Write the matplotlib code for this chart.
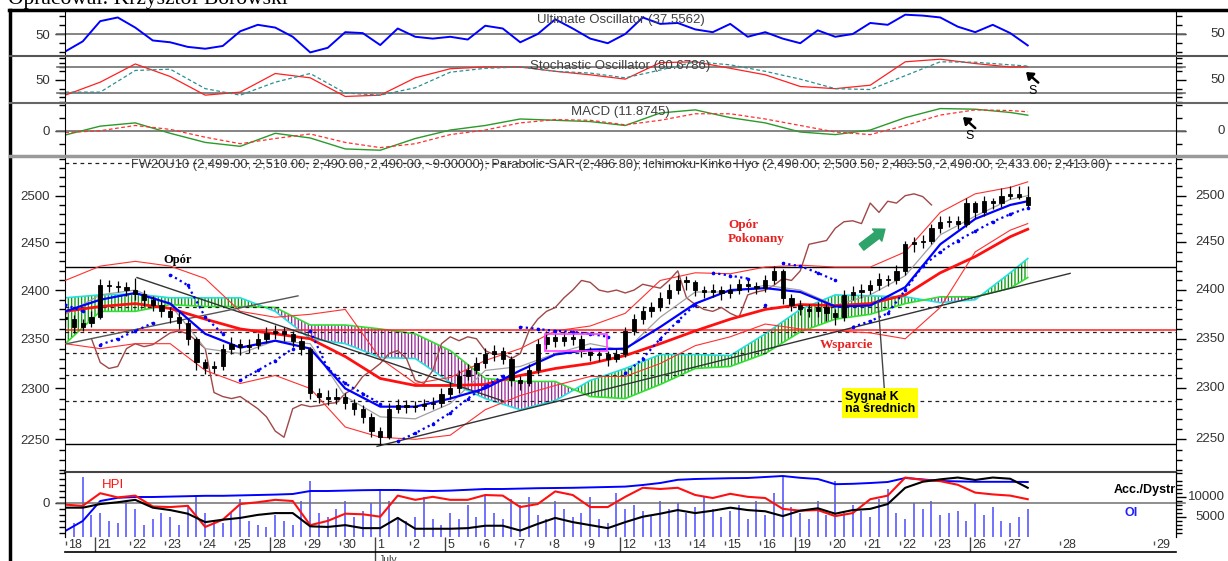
import numpy as np
import matplotlib
matplotlib.use('Agg')
import matplotlib.pyplot as plt
from matplotlib import ticker, transforms
from matplotlib.lines import Line2D
from matplotlib.patches import Rectangle

plt.rcParams['font.family'] = ['Liberation Sans', 'DejaVu Sans']
plt.rcParams['hatch.linewidth'] = 0.9

# ---------------- values ----------------
# FW20U10 bars, 4 per session
closes = [2370, 2362, 2366, 2372, 2405, 2404, 2403, 2400, 2396, 2390,
          2385, 2378, 2372, 2366, 2350, 2326, 2320, 2322, 2340, 2345,
          2342, 2344, 2350, 2356, 2358, 2355, 2348, 2340, 2296, 2292,
          2290, 2292, 2286, 2280, 2272, 2258, 2252, 2280, 2284, 2282,
          2283, 2285, 2286, 2295, 2300, 2312, 2318, 2325, 2335, 2338,
          2330, 2308, 2305, 2318, 2345, 2352, 2348, 2352, 2350, 2338,
          2334, 2335, 2330, 2335, 2358, 2370, 2378, 2382, 2392, 2400,
          2410, 2408, 2400, 2398, 2400, 2397, 2400, 2406, 2404, 2402,
          2410, 2420, 2392, 2385, 2380, 2378, 2382, 2376, 2372, 2395,
          2398, 2400, 2405, 2412, 2410, 2420, 2448, 2450, 2452, 2465,
          2472, 2473, 2470, 2492, 2482, 2494, 2492, 2500, 2502, 2499,
          2490]
highs = [2378, 2374, 2370, 2378, 2412, 2410, 2409, 2408, 2413, 2400,
         2394, 2390, 2382, 2377, 2370, 2352, 2330, 2328, 2345, 2352,
         2350, 2350, 2356, 2362, 2364, 2362, 2358, 2352, 2342, 2300,
         2298, 2300, 2296, 2290, 2284, 2276, 2262, 2286, 2290, 2289,
         2288, 2290, 2292, 2300, 2306, 2318, 2324, 2332, 2341, 2344,
         2342, 2333, 2312, 2324, 2350, 2358, 2356, 2358, 2356, 2354,
         2342, 2340, 2338, 2340, 2362, 2375, 2384, 2388, 2398, 2406,
         2416, 2415, 2410, 2404, 2406, 2404, 2406, 2412, 2410, 2408,
         2416, 2425, 2422, 2396, 2390, 2386, 2388, 2386, 2380, 2400,
         2404, 2406, 2410, 2418, 2416, 2426, 2452, 2456, 2458, 2470,
         2478, 2478, 2478, 2498, 2494, 2500, 2498, 2508, 2510, 2510,
         2510]
lows = [2362, 2356, 2358, 2362, 2370, 2398, 2398, 2394, 2390, 2384,
        2378, 2372, 2366, 2360, 2344, 2318, 2314, 2315, 2318, 2335,
        2334, 2336, 2340, 2346, 2350, 2348, 2342, 2334, 2290, 2286,
        2284, 2285, 2280, 2274, 2266, 2252, 2244, 2250, 2276, 2276,
        2277, 2279, 2280, 2282, 2290, 2296, 2308, 2314, 2320, 2328,
        2324, 2302, 2298, 2302, 2314, 2340, 2342, 2343, 2344, 2332,
        2328, 2328, 2322, 2326, 2332, 2354, 2365, 2372, 2378, 2386,
        2396, 2400, 2394, 2392, 2393, 2390, 2392, 2396, 2398, 2396,
        2398, 2406, 2386, 2378, 2374, 2372, 2372, 2368, 2364, 2368,
        2390, 2392, 2396, 2400, 2404, 2406, 2416, 2440, 2444, 2448,
        2460, 2466, 2464, 2466, 2476, 2478, 2486, 2488, 2496, 2496,
        2488]
first_open = 2372
volume = [4000, 3500, 15000, 5500, 6000, 4000, 3500, 9000, 7000, 3000, 4500, 6000, 5000, 3000, 8000, 10500,
          6000, 4000, 3500, 6000, 9500, 4000, 3000, 2500, 5500, 4000, 3000, 9000, 14000, 6000, 5000, 7000,
          9000, 5000, 6500, 8500, 12000, 9000, 5000, 4000, 5000, 10000, 4500, 3000, 6000, 4500, 8000, 5000,
          10500, 6000, 4500, 9500, 8000, 10000, 5500, 4500, 9000, 7000, 5000, 6000, 10000, 4500, 3500, 11000,
          7000, 8000, 6500, 5500, 9000, 7000, 8500, 6000, 7500, 10000, 7000, 5000, 6500, 8000, 4500, 9000,
          5500, 11000, 15000, 7500, 6000, 4500, 9000, 5500, 14000, 6000, 8000, 6500, 5000, 9500, 12000, 6000,
          4500, 8500, 7000, 9000, 5500, 6000, 6500, 4000, 8500, 5500, 7500, 4000, 3500, 5000, 7000]

# oscillators
uo = [31, 42, 64, 68, 57, 43, 41, 36, 34, 37, 53, 60, 57, 47, 30, 35, 52, 51, 38, 56,
      47, 45, 47, 44, 59, 56, 41, 50, 66, 56, 45, 40, 50, 68, 61, 62, 55, 52, 61, 47,
      52, 45, 40, 54, 47, 50, 62, 60, 71, 70, 68, 58, 52, 60, 51, 37.6]
stoch_k = [15, 45, 87, 58, 15, 22, 65, 55, 12, 15, 55, 76, 80, 80, 70, 62, 52, 90, 92, 77,
           62, 35, 30, 38, 92, 98, 88, 80, 80.7]
stoch_d = [22, 22, 72, 75, 30, 15, 45, 65, 20, 15, 32, 68, 77, 80, 70, 66, 55, 73, 92, 85,
           70, 52, 30, 28, 60, 92, 91, 85, 82]
macd = [-3.3, 3.5, 6, -2, -9, -12, -2, -5.6, -14, -15, -6, 0.5, 4, 9, 8, 7, 4, 13.6, 16, 10,
        6, -1, -3, 0.5, 10, 17, 16.5, 14, 11.9]
macd_signal = [-1.5, 0, 4, 1, -5, -10, -6, -2.5, -9, -13, -10, -3, 0.5, 6, 8.5, 8, 4.5, 8, 13, 13,
               9, 4, -1, -3, 4, 12, 16, 15.5, 14.5]

# price overlays, one value per session
ma_blue = [2378, 2390, 2397, 2386, 2355, 2341, 2348, 2340, 2300, 2282, 2282, 2290, 2300, 2318, 2334,
           2339, 2340, 2362, 2386, 2400, 2402, 2398, 2383, 2384, 2403, 2448, 2475, 2490, 2494]
ma_red = [2378, 2383, 2386, 2381, 2370, 2360, 2355, 2350, 2332, 2310, 2303, 2303, 2304, 2313, 2320,
          2325, 2333, 2345, 2358, 2370, 2380, 2385, 2384, 2386, 2395, 2418, 2435, 2456, 2464]
boll_up = [2410, 2425, 2430, 2425, 2412, 2378, 2372, 2375, 2380, 2330, 2305, 2311, 2328, 2340, 2358,
           2363, 2376, 2410, 2418, 2417, 2424, 2426, 2424, 2424, 2440, 2482, 2502, 2509, 2515]
boll_lo = [2345, 2340, 2345, 2345, 2318, 2305, 2313, 2300, 2262, 2252, 2250, 2254, 2279, 2293, 2303,
           2312, 2312, 2325, 2343, 2352, 2365, 2360, 2358, 2356, 2350, 2382, 2440, 2463, 2470]
ma_gray = [2375, 2395, 2400, 2385, 2340, 2335, 2348, 2345, 2292, 2272, 2270, 2285, 2318, 2322, 2335,
           2345, 2338, 2372, 2398, 2398, 2405, 2400, 2384, 2395, 2415, 2458, 2478, 2496, 2500]
senkou_a = [2392, 2395, 2396, 2392, 2392, 2392, 2378, 2350, 2345, 2331, 2330, 2306, 2290, 2279, 2288,
            2308, 2320, 2334, 2334, 2333, 2355, 2380, 2395, 2394, 2393, 2387, 2390, 2418, 2433]
senkou_b = [2345, 2378, 2378, 2385, 2383, 2383, 2382, 2364, 2364, 2360, 2355, 2338, 2310, 2307, 2307,
            2292, 2290, 2304, 2320, 2322, 2335, 2357, 2370, 2375, 2386, 2393, 2393, 2402, 2413]
# parabolic SAR, two values per session
sar = [2385, 2378, 2344, 2350, 2358, 2366, 2416, 2405, 2372, 2355,
       2308, 2318, 2328, 2340, 2358, 2320, 2305, 2295, 2285, 2248,
       2256, 2265, 2276, 2290, 2302, 2312, 2362, 2360, 2358, 2357,
       2355, 2352, 2315, 2330, 2350, 2368, 2385, 2418, 2415, 2412,
       2385, 2428, 2425, 2418, 2410, 2362, 2368, 2376, 2400, 2425,
       2440, 2452, 2462, 2472, 2480, 2487]

# lower panel, two values per session
hpi = [-0.3, -0.5, 1.6, 0.9, 1.2, -0.6, -0.7, -0.5, -4.0, -2.8, -0.2, 0.1, 0.5, 0.3, -3.7, -3.0,
       -1.8, -1.9, -2.3, 1.2, 0.5, 1.0, 0.5, 0.5, 1.3, 1.2, -0.7, -0.2, 1.9, 1.3, -0.7, -0.7,
       1.0, 2.5, 2.3, 2.5, 1.3, 0.8, 1.5, 1.0, 0.8, -1.0, -1.3, -1.2, -2.2, -1.7, 0.6, 1.2,
       4.2, 3.8, 3.6, 3.0, 1.7, 1.4, 1.2, 0.6]
acc_dist = [-0.8, -0.8, -0.2, 0.1, 0.5, -0.8, -1.2, -1.8, -3.2, -2.8, -2.5, -2.0, -1.7, -1.7, -3.9, -4.0,
            -3.7, -4.2, -4.2, -2.5, -4.3, -4.3, -4.3, -4.2, -3.8, -3.8, -4.6, -3.5, -2.5, -3.2, -3.7, -4.2,
            -3.2, -2.3, -1.8, -1.2, -1.7, -1.3, -0.8, -1.2, -1.4, -2.2, -1.3, -0.9, -1.8, -1.2, -1.0, -0.2,
            2.5, 3.5, 3.9, 4.2, 3.8, 4.2, 4.0, 2.5]
open_int = [1500, 4000, 9000, 9800, 10000, 10000, 10100, 10200, 10300, 10300, 10400, 10500, 10600, 10750,
            11500, 11500, 11600, 11700, 11750, 11750, 11600, 11500, 11600, 11800, 12000, 12000, 12100, 12200,
            12250, 12300, 12400, 12500, 12600, 13000, 13500, 14300, 14500, 14600, 14700, 14750, 15000, 15250,
            14800, 14500, 13200, 13300, 13500, 13750, 14750, 14400, 14000, 13900, 13800, 13800, 13800, 13750]

resist_levels = [2423.8, 2245.2]
dashed_levels = [2535.3, 2382.2, 2356.6, 2335.2, 2313.8, 2287.9]
support_red = 2358.9

day_labels = ['18', '21', '22', '23', '24', '25', '28', '29', '30', '1', '2', '5', '6', '7', '8', '9',
              '12', '13', '14', '15', '16', '19', '20', '21', '22', '23', '26', '27', '28', '29']
day_pos = [0.17] + list(range(1, 28)) + [28.57, 31.26]
week_starts = [1, 6, 11, 16, 21, 26]
month_start = 9

# ---------------- positions on the session axis ----------------
n = len(closes)
t_bar = 0.15 + 0.25 * np.arange(n)
t_half = t_bar[::2]
t_day = t_bar[list(range(0, n - 2, 4)) + [n - 1]]

W, H = 1228, 561
fig = plt.figure(figsize=(W / 100, H / 100), dpi=100)
XL = (0.143, 31.886)
TXT = '#333333'


def panel(top, bottom, label=None):
    ax = fig.add_axes([65 / W, 1 - bottom / H, 1111 / W, (bottom - top) / H], label=label)
    ax.set_xlim(*XL)
    ax.set_xticks([])
    ax.patch.set_alpha(0)
    for s in ('top', 'bottom'):
        ax.spines[s].set_visible(False)
    return ax


def yaxis(ax, ylim, majors, labels, minors, left=True, right=True, right_labels=True):
    ax.set_ylim(*ylim)
    ax.yaxis.set_major_locator(ticker.FixedLocator(majors))
    ax.yaxis.set_major_formatter(ticker.FixedFormatter(labels))
    ax.yaxis.set_minor_locator(ticker.FixedLocator(minors))
    ax.yaxis.set_minor_formatter(ticker.NullFormatter())
    ax.tick_params(axis='y', which='both', direction='out', left=left, right=right,
                   labelleft=left, labelright=False, labelsize=9.5, labelcolor=TXT, width=1)
    ax.tick_params(axis='y', which='major', length=7, pad=3.6)
    ax.tick_params(axis='y', which='minor', length=4)
    if right and right_labels:
        tr = transforms.blended_transform_factory(ax.transAxes, ax.transData)
        for v, s in zip(majors, labels):
            ax.text(1 + 49 / 1111, v, s, transform=tr, ha='right', va='center',
                    fontsize=9.5, color=TXT)


def ext_hline(ax, v, color='#707070', lw=1.2):
    ax.axhline(v, xmin=-8 / 1111, xmax=1 + 9 / 1111, clip_on=False, color=color, lw=lw)


cursor = dict(arrowstyle='-|>,head_width=0.28,head_length=0.38', lw=1.8,
              color='black', shrinkA=0, shrinkB=0)

# ---------------- Ultimate oscillator ----------------
ax_uo = panel(10, 56)
yaxis(ax_uo, (26.1, 76.1), [50], ['50'], [30, 40, 60, 70])
ext_hline(ax_uo, 50)
ax_uo.plot(t_half, uo, color='#0000ff', lw=1.4)
ax_uo.text(0.5, 0.78, 'Ultimate Oscillator (37.5562)', transform=ax_uo.transAxes,
           ha='center', va='center', fontsize=9.5, color='#404040')

# ---------------- Stochastic ----------------
ax_st = panel(56, 102.7)
yaxis(ax_st, (-2.4, 105.4), [50], ['50'], [0, 10, 20, 30, 70, 80, 90, 100])
ext_hline(ax_st, 80)
ext_hline(ax_st, 20)
ax_st.plot(t_day, stoch_k, color='#ff2020', lw=0.9)
ax_st.plot(t_day, stoch_d, color='#2a9090', lw=0.9, ls=(0, (3, 2)))
ax_st.text(0.5, 0.786, 'Stochastic Oscillator (80.6786)', transform=ax_st.transAxes,
           ha='center', va='center', fontsize=9.5, color='#404040')
ax_st.annotate('', xy=(27.6, 68.5), xytext=(27.95, 44), arrowprops=cursor)
ax_st.text(27.8, 25, 'S', ha='center', va='center', fontsize=9, color='black')

# ---------------- MACD ----------------
ax_m = panel(102.7, 155.7)
yaxis(ax_m, (-19.2, 21.5), [0], ['0'], [-10, 10, 20])
ext_hline(ax_m, 0)
ax_m.plot(t_day, macd, color='#2a9a2a', lw=1.0)
ax_m.plot(t_day, macd_signal, color='#ff3030', lw=0.9, ls=(0, (3, 2)))
ax_m.text(0.5, 0.82, 'MACD (11.8745)', transform=ax_m.transAxes,
          ha='center', va='center', fontsize=9.5, color='#404040')
ax_m.annotate('', xy=(25.8, 10.5), xytext=(26.15, 2), arrowprops=cursor)
ax_m.text(26.0, -4, 'S', ha='center', va='center', fontsize=9, color='black')

# ---------------- Price ----------------
ax_p = panel(155.7, 471.7)
ax_p.set_yscale('log')
p_major = [2250, 2300, 2350, 2400, 2450, 2500]
yaxis(ax_p, (2218.7, 2543.6), p_major, [str(v) for v in p_major],
      [v for v in range(2220, 2541, 10) if v % 50])

a = np.array(senkou_a, float)
b = np.array(senkou_b, float)
ax_p.fill_between(t_day, a, b, where=a >= b, interpolate=True, facecolor='none',
                  edgecolor='#009a00', hatch='|||||', lw=0, zorder=1)
ax_p.fill_between(t_day, a, b, where=a < b, interpolate=True, facecolor='none',
                  edgecolor='#9a209a', hatch='|||||', lw=0, zorder=1)
ax_p.plot(t_day, a, color='#20e0e0', lw=1.2, zorder=2)
ax_p.plot(t_day, b, color='#30e030', lw=1.2, zorder=2)

for v in resist_levels:
    ax_p.axhline(v, color='black', lw=1, zorder=2)
for v in dashed_levels:
    ax_p.axhline(v, color='#222222', lw=0.9, ls=(0, (3, 3)), zorder=2)
ax_p.axhline(support_red, color='#ff2020', lw=1.1, zorder=2)

c = np.array(closes, float)
ax_p.plot(t_bar[3:n - 11], c[14:], color='#a04848', lw=1.0, zorder=3)
ax_p.plot(t_day, boll_up, color='#ff3030', lw=0.8, zorder=3)
ax_p.plot(t_day, boll_lo, color='#ff3030', lw=0.8, zorder=3)
ax_p.plot(t_day, ma_gray, color='#a0a0a0', lw=0.9, zorder=3)
ax_p.plot(t_day, ma_red, color='#ff1010', lw=2.0, zorder=4)
ax_p.plot(t_day, ma_blue, color='#0000ff', lw=1.6, zorder=4)

# trend lines
ax_p.plot([2.2, 12.66], [2413, 2287.6], color='#333333', lw=1, zorder=3)
ax_p.plot([9.06, 28.86], [2243.2, 2417.4], color='#333333', lw=1, zorder=3)
ax_p.plot([0.2, 6.8], [2345, 2394], color='#555555', lw=1, zorder=3)

# parabolic SAR, one dotted run per side of the price
s = np.array(sar, float)
above = s > c[::2]
start = 0
for j in range(1, len(s) + 1):
    if j == len(s) or above[j] != above[start]:
        ax_p.plot(t_half[start:j], s[start:j], color='#0000ff', lw=1.6,
                  ls=(0, (1, 1.5)), marker='o', ms=1.6, zorder=5)
        start = j

# candles
o = np.r_[first_open, c[:-1]]
ax_p.vlines(t_bar, lows, highs, color='black', lw=0.9, zorder=6)
ax_p.bar(t_bar, np.abs(c - o), bottom=np.minimum(o, c), width=0.12, color='black',
         edgecolor='black', lw=0.6, zorder=7)

ax_p.add_patch(Rectangle((13.86, 2338), 1.77, 17, fill=False, edgecolor='#ff40ff', lw=1.2, zorder=8))

ax_p.text(0.5, 0.9706,
          'FW20U10 (2,499.00, 2,510.00, 2,490.00, 2,490.00, -9.00000); Parabolic SAR (2,486.80); '
          'Ichimoku Kinko Hyo (2,490.00, 2,500.50, 2,483.50, 2,490.00, 2,433.00, 2,413.00)',
          transform=ax_p.transAxes, ha='center', va='center', fontsize=9.3, color='#404040')
serif = ['Liberation Serif', 'DejaVu Serif']
ax_p.text(3.37, 2431.4, 'Opór', family=serif, fontweight='bold', fontsize=9,
          ha='center', va='center', zorder=9)
ax_p.text(19.09, 2468.5, 'Opór', family=serif, fontweight='bold', fontsize=9.5,
          color='#e82020', ha='left', va='center', zorder=9)
ax_p.text(19.09, 2453.6, 'Pokonany', family=serif, fontweight='bold', fontsize=9.5,
          color='#e82020', ha='left', va='center', zorder=9)
ax_p.text(21.71, 2344, 'Wsparcie', family=serif, fontweight='bold', fontsize=9.5,
          color='#e82020', ha='left', va='center', zorder=9)
ax_p.annotate('', xy=(23.37, 2389), xytext=(23.57, 2291),
              arrowprops=dict(arrowstyle='-', color='#444444', lw=1, shrinkA=0, shrinkB=0), zorder=9)
ax_p.text(23.43, 2285.6, 'Sygnał K\nna średnich', ha='center', va='center', fontsize=9,
          fontweight='bold', multialignment='left', linespacing=1.05,
          bbox=dict(boxstyle='square,pad=0.25', fc='#ffff00', ec='none'), zorder=10)
ax_p.annotate('', xy=(23.57, 2464), xytext=(22.9, 2445),
              arrowprops=dict(arrowstyle='simple,head_width=1.1,head_length=0.7,tail_width=0.55',
                              color='#2ea36a', shrinkA=0, shrinkB=0), zorder=9)

# ---------------- lower panel ----------------
ax_v = panel(471.7, 537, 'vol')
ax_v.spines['top'].set_visible(True)
ax_v.spines['top'].set_color('#444444')
ax_v.spines['top'].set_linewidth(1.5)
yaxis(ax_v, (0, 16325), [5000, 10000], ['5000', '10000'],
      [v for v in range(1000, 16001, 1000) if v % 5000], left=False, right=True)
ax_v.vlines(t_bar, 0, volume, color='#4a4aff', lw=1.1)
ax_v.plot(t_half, open_int, color='#0000ff', lw=1.4)

ax_h = panel(471.7, 537, 'hpi')
yaxis(ax_h, (-5.67, 5.17), [0], ['0'], [-5, -4, -3, -2, -1, 1, 2, 3, 4, 5],
      left=True, right=False)
ext_hline(ax_h, 0, color='#707070', lw=1.1)
ax_h.plot(t_half, hpi, color='#ff1010', lw=1.5)
ax_h.plot(t_half, acc_dist, color='black', lw=1.5)
ax_h.text(1.2, 3.0, 'HPI', color='#ff1010', fontsize=9.5, ha='left', va='center')
trh = transforms.blended_transform_factory(ax_h.transAxes, ax_h.transData)
ax_h.text(1.0, 2.2, 'Acc./Dystr', transform=trh, fontsize=9, fontweight='bold',
          ha='right', va='center')
ax_h.text(30.6, -1.7, 'OI', color='#2020ff', fontsize=9, fontweight='bold',
          ha='center', va='center')

# ---------------- date strip ----------------
ax_d = panel(537, 552, 'dates')
ax_d.set_ylim(0, 1)
ax_d.set_yticks([])
ax_d.spines['left'].set_visible(False)
ax_d.spines['right'].set_visible(False)
ax_d.spines['bottom'].set_visible(True)
ax_d.spines['bottom'].set_linewidth(1.2)
for k, (p, lab) in enumerate(zip(day_pos, day_labels)):
    if k in week_starts:
        ax_d.vlines(p, 0, 1, color='#444444', lw=1)
    elif k == month_start:
        ax_d.vlines(p, -1.7, 1, color='#444444', lw=1, clip_on=False)
    else:
        ax_d.vlines(p, 0.45, 0.75, color='#555555', lw=1)
    ax_d.text(p + 0.07, 0.47, lab, ha='left', va='center', fontsize=9, color=TXT)
ax_d.text(day_pos[month_start] + 0.1, -0.2, 'July', ha='left', va='top', fontsize=7.5,
          color=TXT, clip_on=False)

# ---------------- frame lines ----------------
def fig_line(xs, ys, **kw):
    fig.add_artist(Line2D([x / W for x in xs], [1 - y / H for y in ys], **kw))


fig_line([9, 1228], [10, 10], color='black', lw=2.5)
fig_line([10, 10], [10, 561], color='black', lw=2.5)
fig_line([10, 1228], [56, 56], color='#555555', lw=1.5)
fig_line([10, 1228], [102.7, 102.7], color='#666666', lw=1.5)
fig_line([10, 1228], [155.7, 155.7], color='#999999', lw=2.5)

fig.text(8 / W, 1 - 4 / H, 'Opracował: Krzysztof Borowski', family=serif,
         fontsize=15.5, ha='left', va='baseline')

fig.savefig('out.png', dpi=100)
